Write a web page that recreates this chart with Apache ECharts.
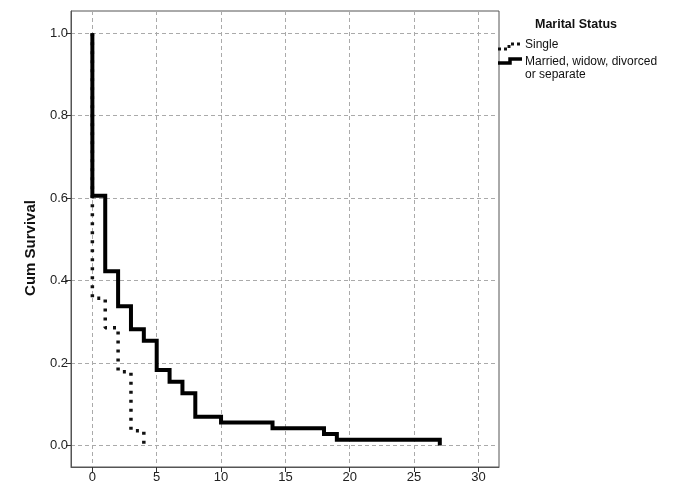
<!DOCTYPE html>
<html><head><meta charset="utf-8">
<script src="https://cdn.jsdelivr.net/npm/echarts@6/dist/echarts.min.js"></script>
<style>html,body{margin:0;padding:0;background:#fff}#c{width:677px;height:488px}</style>
</head><body><div id="c"></div>
<script>
const xTicks = [0, 5, 10, 15, 20, 25, 30];
const yTicks = [0, 0.2, 0.4, 0.6, 0.8, 1.0];
const singleTimes = [0, 0, 1, 2, 3, 4];
const singleSurv = [1.0, 0.357, 0.286, 0.179, 0.036, 0.0];
const marriedTimes = [0, 0, 1, 2, 3, 4, 5, 6, 7, 8, 10, 14, 18, 19, 27];
const marriedSurv = [1.0, 0.606, 0.423, 0.338, 0.282, 0.254, 0.183, 0.155, 0.127, 0.070, 0.056, 0.042, 0.028, 0.014, 0.0];
const legendTitle = 'Marital Status';
const seriesNames = ['Single', 'Married, widow, divorced\nor separate'];
const yAxisName = 'Cum Survival';

const FONT = "'Liberation Sans', Arial, sans-serif";
const pairs = (xs, ys) => xs.map((x, i) => [x, ys[i]]);

const chart = echarts.init(document.getElementById('c'), null, {renderer: 'canvas'});
const gridStyle = {show: true, lineStyle: {color: '#aaaaaa', width: 1, type: [4, 3]}};
chart.setOption({
  animation: false,
  backgroundColor: '#fff',
  grid: {left: 71, top: 11, right: 178, bottom: 21, show: true, borderColor: '#555', borderWidth: 1, backgroundColor: 'transparent'},
  xAxis: {
    type: 'value', min: -1.66, max: 31.6,
    axisLine: {show: true, onZero: false, lineStyle: {color: '#555', width: 1}},
    axisTick: {show: true, length: 5, customValues: xTicks, lineStyle: {color: '#333'}},
    axisLabel: {customValues: xTicks, color: '#222', fontSize: 13, fontFamily: FONT, margin: 4},
    splitLine: gridStyle
  },
  yAxis: {
    type: 'value', min: -0.052, max: 1.054,
    name: yAxisName, nameLocation: 'middle', nameGap: 33,
    nameTextStyle: {fontSize: 15, fontWeight: 'bold', color: '#111', fontFamily: FONT, padding: [0, 18, 0, 0]},
    axisLine: {show: true, onZero: false, lineStyle: {color: '#555', width: 1}},
    axisTick: {show: true, length: 5, customValues: yTicks, lineStyle: {color: '#333'}},
    axisLabel: {customValues: yTicks, color: '#222', fontSize: 13, fontFamily: FONT, margin: 3,
      formatter: v => Number(v).toFixed(1)},
    splitLine: gridStyle
  },
  series: [
    {name: seriesNames[0], type: 'line', step: 'end', showSymbol: false, symbol: 'none',
      data: pairs(singleTimes, singleSurv),
      lineStyle: {color: '#111', width: 3.5, type: [3, 6], cap: 'butt'}, z: 2},
    {name: seriesNames[1], type: 'line', step: 'end', showSymbol: false, symbol: 'none',
      data: pairs(marriedTimes, marriedSurv),
      lineStyle: {color: '#000', width: 4, type: 'solid', join: 'miter'}, z: 3}
  ],
  graphic: [
    {type: 'text', left: 535, top: 18, style: {text: legendTitle, font: "bold 12.5px " + FONT, fill: '#111'}},
    {type: 'polyline', shape: {points: [[498, 49], [509, 49], [509, 44], [522, 44]]},
      style: {stroke: '#111', lineWidth: 3, lineDash: [3, 3], fill: null}},
    {type: 'text', left: 525, top: 39, style: {text: seriesNames[0], font: "12px " + FONT, fill: '#111'}},
    {type: 'polyline', shape: {points: [[498, 63], [510, 63], [510, 59], [522, 59]]},
      style: {stroke: '#000', lineWidth: 3.5, fill: null}},
    {type: 'text', left: 525, top: 55, style: {text: seriesNames[1], font: "12px " + FONT, fill: '#111', lineHeight: 13}}
  ]
});
</script></body></html>
